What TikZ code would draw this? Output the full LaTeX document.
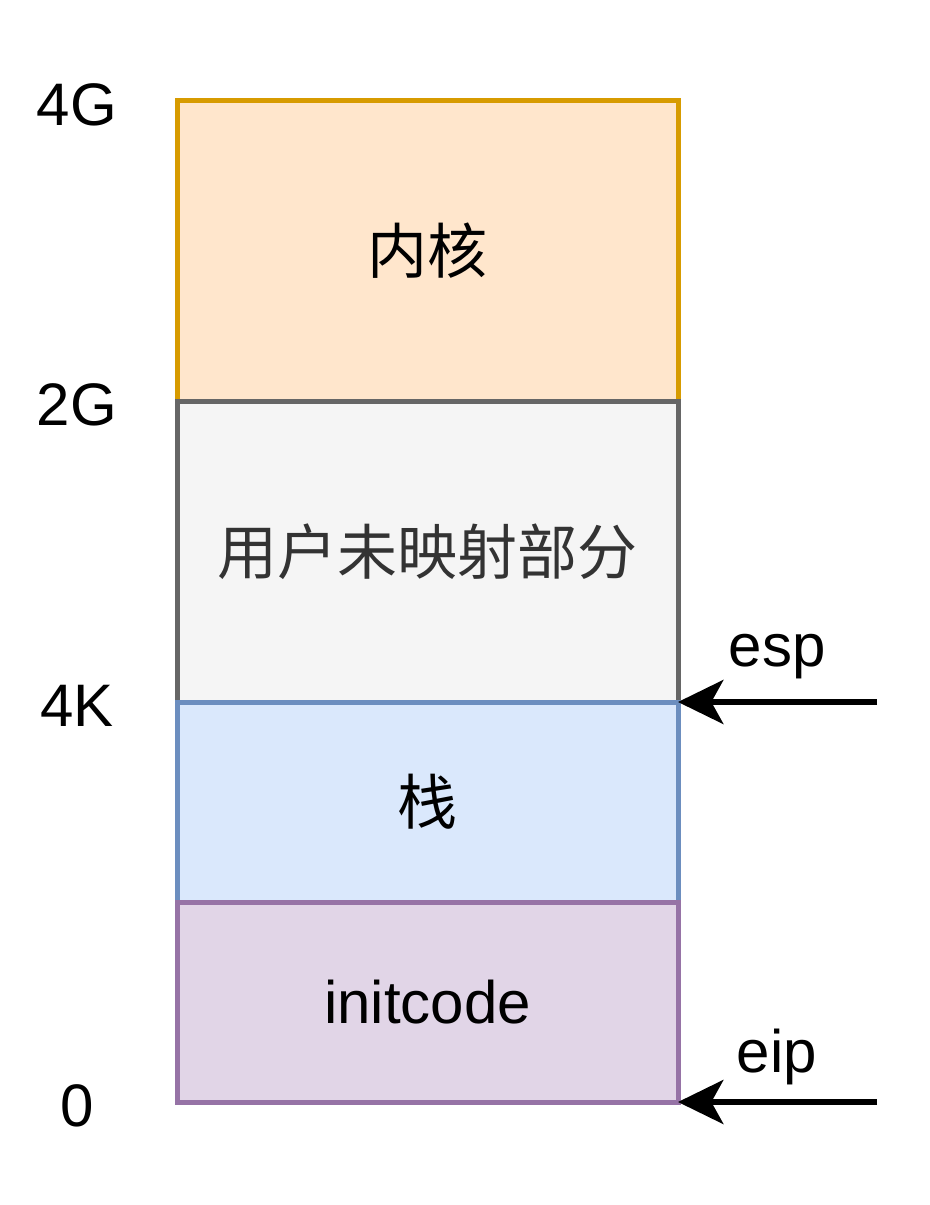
\documentclass[tikz,border=0pt]{standalone}
\usepackage{fontspec}
\setmainfont{Liberation Sans}
\newfontfamily\cjk{Noto Sans CJK SC}
\usetikzlibrary{arrows.meta}
\definecolor{kfill}{HTML}{FFE6CC}\definecolor{kline}{HTML}{D79B00}
\definecolor{gfill}{HTML}{F5F5F5}\definecolor{gline}{HTML}{666666}\definecolor{gtext}{HTML}{333333}
\definecolor{bfill}{HTML}{DAE8FC}\definecolor{bline}{HTML}{6C8EBF}
\definecolor{pfill}{HTML}{E1D5E7}\definecolor{pline}{HTML}{9673A6}
\tikzset{
  region/.style={rectangle, draw, line width=3.75pt, inner sep=0pt, outer sep=0pt, minimum width=375.75pt, font=\fontsize{45pt}{54pt}\selectfont},
  addr/.style={font=\fontsize{45pt}{54pt}\selectfont, inner sep=0pt},
  ptr/.style={line width=4.2pt, -{Stealth[length=34pt, width=33pt, inset=9pt]}}
}
\begin{document}
\begin{tikzpicture}[x=0.75pt, y=-0.75pt]
\useasboundingbox (0,0) rectangle (930,1205);
\node[region, fill=kfill, draw=kline, minimum height=225pt] (kernel) at (427.5,251) {\cjk\raisebox{-3pt}{内核}};
\node[region, fill=gfill, draw=gline, text=gtext, minimum height=225.75pt] (unmapped) at (427.5,551.5) {\cjk\raisebox{-3pt}{用户未映射部分}};
\node[region, fill=bfill, draw=bline, minimum height=150pt] (stack) at (427.5,802) {\cjk\raisebox{-3pt}{栈}};
\node[region, fill=pfill, draw=pline, minimum height=150pt] (initcode) at (427.5,1002) {initcode};
\node[addr] (l4g) at (77,105) {4G};
\node[addr] (l2g) at (77,405) {2G};
\node[addr] (l4k) at (77,706) {4K};
\node[addr] (l0) at (77,1106) {0};
\node[addr] (esp) at (777,657) {esp};
\node[addr] (eip) at (777,1057) {eip};
\coordinate (espfrom) at (877,702);
\coordinate (eipfrom) at (877,1102);
\draw[ptr] (espfrom) -- (espfrom -| stack.east);
\draw[ptr] (eipfrom) -- (eipfrom -| initcode.east);
\end{tikzpicture}
\end{document}
